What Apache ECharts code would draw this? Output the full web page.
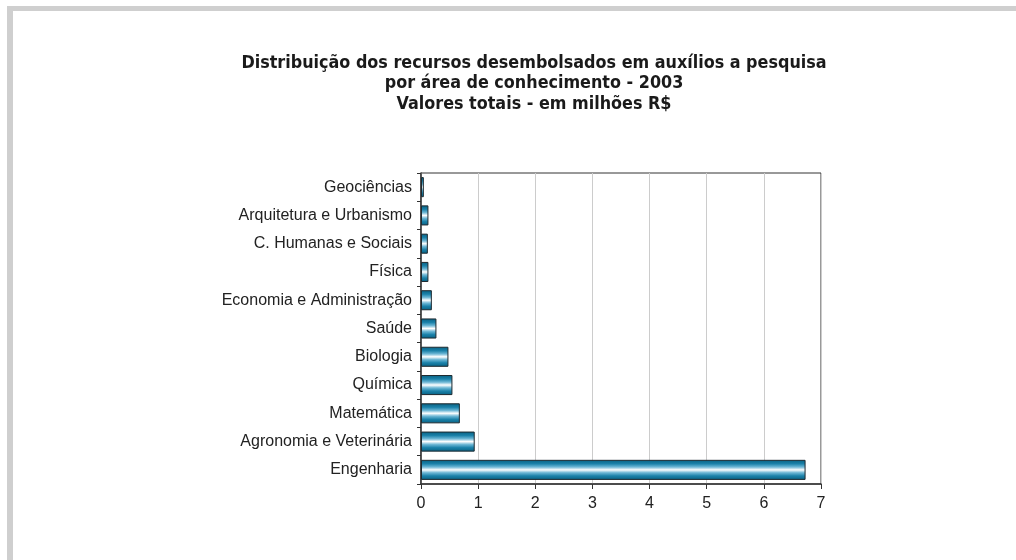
<!DOCTYPE html>
<html>
<head>
<meta charset="utf-8">
<script src="https://cdn.jsdelivr.net/npm/echarts@6/dist/echarts.min.js"></script>
<style>
  html, body { margin: 0; padding: 0; background: #ffffff; }
  #chart { width: 1016px; height: 560px; }
</style>
</head>
<body>
<div id="chart"></div>
<script>
// Áreas de conhecimento (de cima para baixo no gráfico)
const areas = [
  'Geociências',
  'Arquitetura e Urbanismo',
  'C. Humanas e Sociais',
  'Física',
  'Economia e Administração',
  'Saúde',
  'Biologia',
  'Química',
  'Matemática',
  'Agronomia e Veterinária',
  'Engenharia'
];

// Valores totais desembolsados, em milhões de R$
const valores = [0.05, 0.13, 0.12, 0.13, 0.19, 0.27, 0.48, 0.55, 0.68, 0.94, 6.73];

// Rótulos do eixo de valores
const ticksX = [0, 1, 2, 3, 4, 5, 6, 7];

const titulo = [
  'Distribuição dos recursos desembolsados em auxílios a pesquisa',
  'por área de conhecimento - 2003',
  'Valores totais - em milhões R$'
];

const chart = echarts.init(document.getElementById('chart'), null, { renderer: 'canvas' });

// Gradiente cilíndrico das barras
const barFill = new echarts.graphic.LinearGradient(0, 0, 0, 1, [
  { offset: 0, color: '#075f80' },
  { offset: 0.2, color: '#1b82aa' },
  { offset: 0.36, color: '#6fb8d6' },
  { offset: 0.5, color: '#ffffff' },
  { offset: 0.64, color: '#6fb8d6' },
  { offset: 0.8, color: '#1b82aa' },
  { offset: 1, color: '#075f80' }
]);

chart.setOption({
  backgroundColor: '#ffffff',
  animation: false,
  title: {
    text: titulo.join('\n'),
    left: 529,
    top: 48,
    textAlign: 'center',
    textStyle: {
      fontFamily: '"DejaVu Sans Condensed", "Liberation Sans Narrow", "DejaVu Sans", sans-serif',
      fontWeight: 'bold',
      fontSize: 17.8,
      lineHeight: 20.5,
      color: '#1a1a1a'
    }
  },
  graphic: [
    // moldura cinza
    { type: 'rect', shape: { x: 7, y: 6, width: 1009, height: 5 }, style: { fill: '#cfcfcf' }, silent: true },
    { type: 'rect', shape: { x: 7, y: 6, width: 6, height: 554 }, style: { fill: '#cfcfcf' }, silent: true }
  ],
  grid: {
    left: 421,
    top: 173,
    right: 195,
    bottom: 76,
    show: true,
    borderColor: '#333333',
    borderWidth: 1,
    backgroundColor: 'transparent'
  },
  xAxis: {
    type: 'value',
    min: ticksX[0],
    max: ticksX[ticksX.length - 1],
    interval: 1,
    axisLine: { show: true, lineStyle: { color: '#333333', width: 1.5 } },
    axisTick: { show: true, length: 5, lineStyle: { color: '#333333' } },
    axisLabel: {
      margin: 12,
      fontFamily: '"Liberation Sans Narrow", "Liberation Sans", Arial, sans-serif',
      fontSize: 16,
      color: '#222222',
      formatter: v => String(v)
    },
    splitLine: { show: true, lineStyle: { color: '#cccccc', width: 1 } }
  },
  yAxis: {
    type: 'category',
    data: areas,
    inverse: true,
    axisLine: { show: true, lineStyle: { color: '#333333', width: 1.5 } },
    axisTick: { show: true, length: 4, lineStyle: { color: '#333333' } },
    axisLabel: {
      margin: 9,
      fontFamily: '"Liberation Sans", Arial, sans-serif',
      fontSize: 16,
      color: '#222222'
    },
    splitLine: { show: false }
  },
  series: [{
    type: 'bar',
    data: valores,
    barCategoryGap: '29%',
    itemStyle: {
      color: barFill,
      borderColor: '#1e2a30',
      borderWidth: 1
    }
  }]
});
</script>
</body>
</html>
